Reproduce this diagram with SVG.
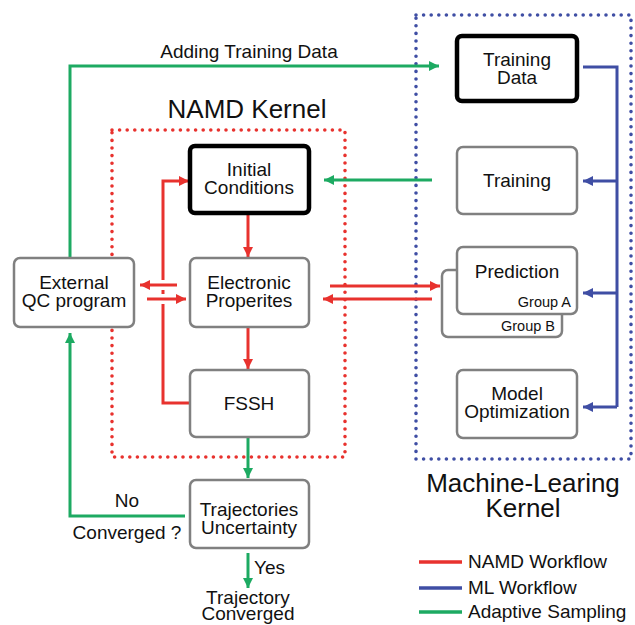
<svg xmlns="http://www.w3.org/2000/svg" width="635" height="625" viewBox="0 0 635 625">
<style>
text{font-family:"Liberation Sans",Arial,sans-serif;fill:#111;}
.t{font-size:19px;text-anchor:middle;}
.big{font-size:26px;text-anchor:middle;}
.sm{font-size:14.5px;text-anchor:end;}
.lg{font-size:19px;}
.box{fill:#fff;stroke:#808080;stroke-width:2.5;}
.bold{fill:#fff;stroke:#000;stroke-width:4.5;}
.r{stroke:#e8322e;stroke-width:3;fill:none;}
.b{stroke:#3f4ea4;stroke-width:3;fill:none;}
.g{stroke:#1daa62;stroke-width:3;fill:none;}
.halo{stroke:#fff;stroke-width:10;fill:none;}
.dot{fill:none;stroke-width:3.6;stroke-linecap:round;stroke-dasharray:0 7.6;}
</style>
<defs>
<marker id="ar" markerUnits="userSpaceOnUse" markerWidth="11" markerHeight="11" refX="10" refY="5" orient="auto"><path d="M0,0 L10,5 L0,10 z" fill="#e8322e"/></marker>
<marker id="ab" markerUnits="userSpaceOnUse" markerWidth="11" markerHeight="11" refX="10" refY="5" orient="auto"><path d="M0,0 L10,5 L0,10 z" fill="#3f4ea4"/></marker>
<marker id="ag" markerUnits="userSpaceOnUse" markerWidth="11" markerHeight="11" refX="10" refY="5" orient="auto"><path d="M0,0 L10,5 L0,10 z" fill="#1daa62"/></marker>
</defs>
<rect width="635" height="625" fill="#fff"/>

<g id="kernels">
<rect x="112" y="130" width="233" height="327" class="dot" stroke="#e8322e"/>
<rect x="416" y="15" width="215" height="444" class="dot" stroke="#3f4ea4"/>
<text class="big" x="247" y="118">NAMD Kernel</text>
<text class="big" x="523" y="492">Machine-Learing</text>
<text class="big" x="523" y="517">Kernel</text>
</g>

<g id="connectors">
<path class="g" d="M70,258 V66 H439" marker-end="url(#ag)"/>
<path class="g" d="M432,180 H324" marker-end="url(#ag)"/>
<path class="g" d="M185,516 H70 V333" marker-end="url(#ag)"/>
<path class="g" d="M248,437 V478" marker-end="url(#ag)"/>
<path class="g" d="M248,553 V588" marker-end="url(#ag)"/>
<path class="b" d="M583,67 H617 V407"/>
<path class="b" d="M617,181 H583" marker-end="url(#ab)"/>
<path class="b" d="M617,293 H583" marker-end="url(#ab)"/>
<path class="b" d="M617,407 H583" marker-end="url(#ab)"/>
<path class="r" d="M248,213 V257" marker-end="url(#ar)"/>
<path class="r" d="M248,327 V369" marker-end="url(#ar)"/>
<path class="r" d="M190,403 H163 V181 H189" marker-end="url(#ar)"/>
<line class="halo" x1="155" y1="285" x2="171" y2="285"/>
<line class="halo" x1="155" y1="299" x2="171" y2="299"/>
<path class="r" d="M177,285 H140" marker-end="url(#ar)"/>
<path class="r" d="M147,299 H186" marker-end="url(#ar)"/>
<path class="r" d="M330,286 H440" marker-end="url(#ar)"/>
<path class="r" d="M432,299 H323" marker-end="url(#ar)"/>
<text class="t" x="249" y="58">Adding Training Data</text>
<text class="t" x="127" y="507">No</text>
<text class="t" x="127" y="539">Converged ?</text>
<text class="lg" x="254" y="574">Yes</text>
</g>

<g id="training-data">
<rect class="bold" x="457" y="36" width="120" height="65" rx="5"/>
<text class="t" x="517" y="66">Training</text>
<text class="t" x="517" y="84">Data</text>
</g>
<g id="training">
<rect class="box" x="457" y="147" width="120" height="67" rx="6"/>
<text class="t" x="517" y="187">Training</text>
</g>
<g id="prediction">
<rect class="box" x="442" y="270" width="120" height="67" rx="6"/>
<text class="sm" x="555" y="331">Group B</text>
<rect class="box" x="457" y="247" width="120" height="67" rx="6"/>
<text class="t" x="517" y="278">Prediction</text>
<text class="sm" x="571" y="307">Group A</text>
</g>
<g id="model-optimization">
<rect class="box" x="457" y="370" width="120" height="68" rx="6"/>
<text class="t" x="517" y="400">Model</text>
<text class="t" x="517" y="418">Optimization</text>
</g>
<g id="initial-conditions">
<rect class="bold" x="190" y="146" width="119" height="67" rx="5"/>
<text class="t" x="249" y="176">Initial</text>
<text class="t" x="249" y="194">Conditions</text>
</g>
<g id="electronic-properties">
<rect class="box" x="190" y="258" width="119" height="69" rx="6"/>
<text class="t" x="249" y="289">Electronic</text>
<text class="t" x="249" y="307">Properites</text>
</g>
<g id="fssh">
<rect class="box" x="190" y="370" width="119" height="67" rx="6"/>
<text class="t" x="249" y="410">FSSH</text>
</g>
<g id="external-qc">
<rect class="box" x="14" y="258" width="120" height="69" rx="6"/>
<text class="t" x="74" y="289">External</text>
<text class="t" x="74" y="307">QC program</text>
</g>
<g id="trajectories">
<rect class="box" x="190" y="480" width="119" height="68" rx="6"/>
<text class="t" x="249" y="516">Trajectories</text>
<text class="t" x="249" y="534">Uncertainty</text>
</g>
<g id="trajectory-converged">
<text class="t" x="248" y="604">Trajectory</text>
<text class="t" x="248" y="620">Converged</text>
</g>
<g id="legend">
<line x1="419" y1="562" x2="462" y2="562" stroke="#e8322e" stroke-width="3.5"/>
<line x1="419" y1="588" x2="462" y2="588" stroke="#3f4ea4" stroke-width="3.5"/>
<line x1="419" y1="612" x2="462" y2="612" stroke="#1daa62" stroke-width="3.5"/>
<text class="lg" x="468" y="568">NAMD Workflow</text>
<text class="lg" x="468" y="594">ML Workflow</text>
<text class="lg" x="468" y="618">Adaptive Sampling</text>
</g>
</svg>
